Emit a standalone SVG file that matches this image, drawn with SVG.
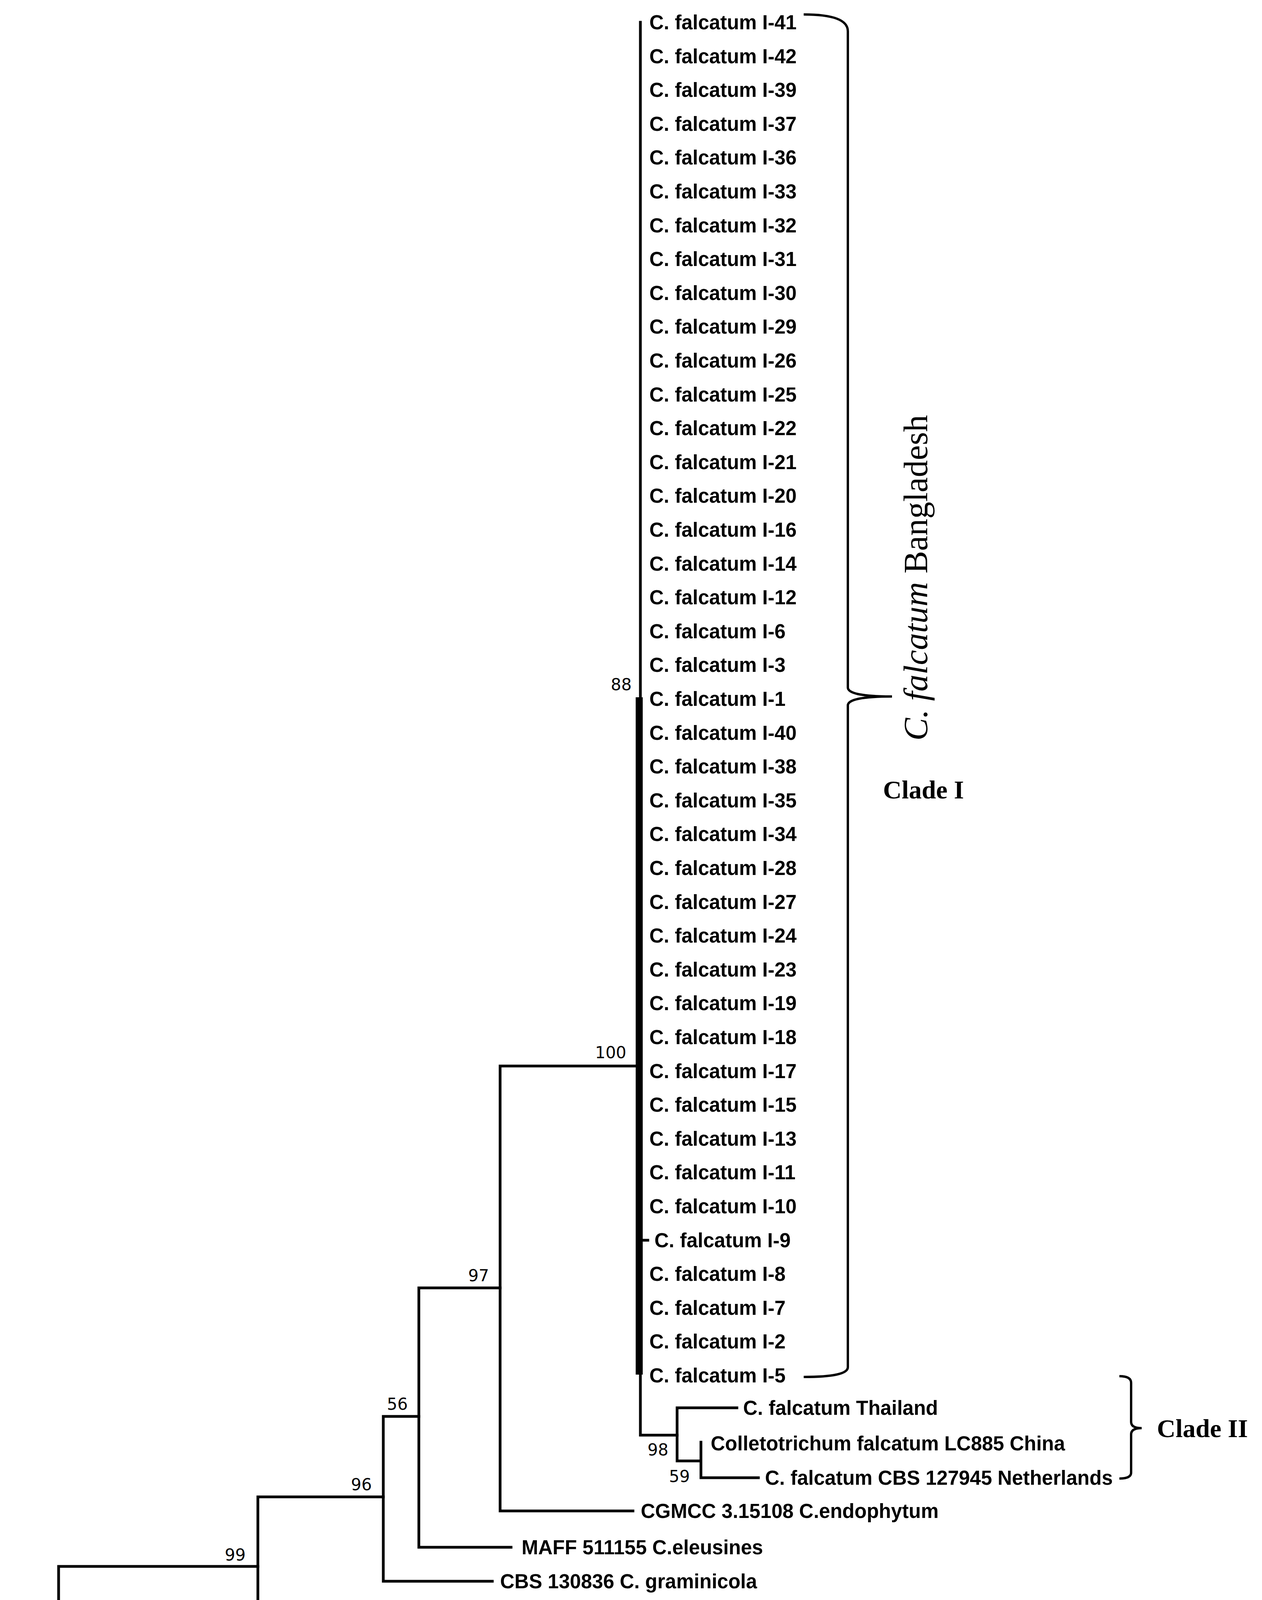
<svg xmlns="http://www.w3.org/2000/svg" width="3230" height="4659" viewBox="0 0 3230 4659">
<style>
.l{font-family:"Liberation Sans",Arial,sans-serif;font-weight:bold;font-size:51px;fill:#000}
.b{font-family:"DejaVu Sans",sans-serif;font-size:42px;fill:#000;text-anchor:middle}
.s{font-family:"Liberation Serif","Times New Roman",serif;fill:#000}
.e{stroke:#000;stroke-width:7;fill:none;stroke-linecap:square}
.br{stroke:#000;stroke-width:6;fill:none}
</style>
<rect width="3230" height="4659" fill="#fff"/>
<g id="connectors" class="e">
<path d="M1639,57 V3674 H1733"/>
<rect x="1627" y="1785" width="18" height="1734" fill="#000" stroke="none"/>
<path d="M1642,3175 H1658"/>
<path d="M1733,3604 V3740 M1733,3604 H1886 M1733,3740 H1794 M1794,3692 V3783 M1794,3783 H1941"/>
<path d="M1280,2729 H1635 M1280,2729 V3868 H1620"/>
<path d="M1072,3297 H1280 M1072,3297 V3961 H1308"/>
<path d="M981,3626 H1072 M981,3626 V4048 H1260"/>
<path d="M660,3832 H981 M660,3832 V4176 H1763 M1763,4135 V4220 M1763,4135 H1850 M1763,4220 H1850"/>
<path d="M150,4010 H660 M150,4010 V4350 H654 M654,4307 V4391 M654,4307 H817 M654,4391 H923"/>
<path d="M58,4176 H150 M58,4176 V4478 H1942"/>
</g>
<g id="leaves">
<text class="l" x="1662" y="75">C. falcatum I-41</text>
<text class="l" x="1662" y="162">C. falcatum I-42</text>
<text class="l" x="1662" y="248">C. falcatum I-39</text>
<text class="l" x="1662" y="335">C. falcatum I-37</text>
<text class="l" x="1662" y="421">C. falcatum I-36</text>
<text class="l" x="1662" y="508">C. falcatum I-33</text>
<text class="l" x="1662" y="595">C. falcatum I-32</text>
<text class="l" x="1662" y="681">C. falcatum I-31</text>
<text class="l" x="1662" y="768">C. falcatum I-30</text>
<text class="l" x="1662" y="854">C. falcatum I-29</text>
<text class="l" x="1662" y="941">C. falcatum I-26</text>
<text class="l" x="1662" y="1028">C. falcatum I-25</text>
<text class="l" x="1662" y="1114">C. falcatum I-22</text>
<text class="l" x="1662" y="1201">C. falcatum I-21</text>
<text class="l" x="1662" y="1287">C. falcatum I-20</text>
<text class="l" x="1662" y="1374">C. falcatum I-16</text>
<text class="l" x="1662" y="1461">C. falcatum I-14</text>
<text class="l" x="1662" y="1547">C. falcatum I-12</text>
<text class="l" x="1662" y="1634">C. falcatum I-6</text>
<text class="l" x="1662" y="1720">C. falcatum I-3</text>
<text class="l" x="1662" y="1807">C. falcatum I-1</text>
<text class="l" x="1662" y="1894">C. falcatum I-40</text>
<text class="l" x="1662" y="1980">C. falcatum I-38</text>
<text class="l" x="1662" y="2067">C. falcatum I-35</text>
<text class="l" x="1662" y="2153">C. falcatum I-34</text>
<text class="l" x="1662" y="2240">C. falcatum I-28</text>
<text class="l" x="1662" y="2327">C. falcatum I-27</text>
<text class="l" x="1662" y="2413">C. falcatum I-24</text>
<text class="l" x="1662" y="2500">C. falcatum I-23</text>
<text class="l" x="1662" y="2586">C. falcatum I-19</text>
<text class="l" x="1662" y="2673">C. falcatum I-18</text>
<text class="l" x="1662" y="2760">C. falcatum I-17</text>
<text class="l" x="1662" y="2846">C. falcatum I-15</text>
<text class="l" x="1662" y="2933">C. falcatum I-13</text>
<text class="l" x="1662" y="3019">C. falcatum I-11</text>
<text class="l" x="1662" y="3106">C. falcatum I-10</text>
<text class="l" x="1675" y="3193">C. falcatum I-9</text>
<text class="l" x="1662" y="3279">C. falcatum I-8</text>
<text class="l" x="1662" y="3366">C. falcatum I-7</text>
<text class="l" x="1662" y="3452">C. falcatum I-2</text>
<text class="l" x="1662" y="3539">C. falcatum I-5</text>
<text class="l" x="1902" y="3622">C. falcatum Thailand</text>
<text class="l" x="1819" y="3713">Colletotrichum falcatum LC885 China</text>
<text class="l" x="1958" y="3801">C. falcatum CBS 127945 Netherlands</text>
<text class="l" x="1640" y="3886">CGMCC 3.15108 C.endophytum</text>
<text class="l" x="1335" y="3979">MAFF 511155 C.eleusines</text>
<text class="l" x="1280" y="4066">CBS 130836 C. graminicola</text>
<text class="l" x="1875" y="4153">ICMP: 17821 C.gloeosporioides</text>
<text class="l" x="1862" y="4238">ICMP:18613 C.fructicola</text>
<text class="l" x="840" y="4325">CBS:112996 C.acutatum</text>
<text class="l" x="948" y="4409">CBS:116478 C.australe</text>
<text class="l" x="1965" y="4496">CBS:869.96 Monilochaetes infuscans</text>
</g>
<g id="bootstrap">
<text class="b" x="1590" y="1767">88</text>
<text class="b" x="1563" y="2709">100</text>
<text class="b" x="1225" y="3280">97</text>
<text class="b" x="1017" y="3609">56</text>
<text class="b" x="925" y="3815">96</text>
<text class="b" x="602" y="3995">99</text>
<text class="b" x="1684" y="3726">98</text>
<text class="b" x="1739" y="3794">59</text>
<text class="b" x="1692" y="4232">100</text>
<text class="b" x="587" y="4401">100</text>
</g>
<g id="clade-I">
<path class="br" d="M2057,37 Q2170,37 2170,80 V1760 Q2170,1783 2283,1783 Q2170,1783 2170,1806 V3500 Q2170,3525 2057,3525"/>
<text class="s" font-size="87" transform="translate(2373,1896) rotate(-90)"><tspan font-style="italic">C. falcatum</tspan> Bangladesh</text>
<text class="s" font-size="66" font-weight="bold" x="2260" y="2044">Clade I</text>
</g>
<g id="clade-II">
<path class="br" d="M2865,3523 Q2895,3523 2895,3540 V3640 Q2895,3656 2922,3656 Q2895,3656 2895,3672 V3770 Q2895,3785 2865,3785"/>
<text class="s" font-size="66" font-weight="bold" x="2961" y="3679">Clade II</text>
</g>
<g id="scale">
<path class="e" d="M294,4596 H788 M294,4579 V4614 M788,4579 V4614"/>
<text class="b" x="545" y="4652">0.05</text>
</g>
</svg>
